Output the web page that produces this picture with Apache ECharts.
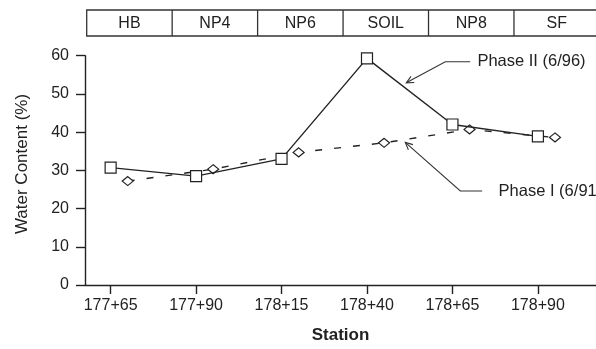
<!DOCTYPE html>
<html>
<head>
<meta charset="utf-8">
<script src="https://cdn.jsdelivr.net/npm/echarts@6/dist/echarts.min.js"></script>
<style>
html,body{margin:0;padding:0;background:#fff;}
#chart{width:596px;height:349px;}
</style>
</head>
<body>
<div id="chart"></div>
<script>
// ---- data ----
const stationsII = [17765, 17790, 17815, 17840, 17865, 17890];
const phaseII = [30.7, 28.5, 33.0, 59.3, 42.0, 38.9];
const stationsI = [17770, 17795, 17820, 17845, 17870, 17895];
const phaseI = [27.2, 30.3, 34.7, 37.2, 40.7, 38.6];
const xTicks = [17765, 17790, 17815, 17840, 17865, 17890];
const xTickLabels = ['177+65', '177+90', '178+15', '178+40', '178+65', '178+90'];
const yTicks = [0, 10, 20, 30, 40, 50, 60];
const zones = ['HB', 'NP4', 'NP6', 'SOIL', 'NP8', 'SF'];
const zoneBounds = [17758, 17783, 17808, 17833, 17858, 17883, 17908];
const annII = { text: 'Phase II (6/96)', tip: [17851.5, 52.9], bend: [17862.9, 58.4], end: [17870.2, 58.4], textAt: 17872.3 };
const annI = { text: 'Phase I (6/91)', tip: [17851.2, 37.3], bend: [17867.3, 24.6], end: [17873.7, 24.6], textAt: 17878.5 };

const INK = '#222';
const FONT = 'Liberation Sans, Arial, sans-serif';

const chart = echarts.init(document.getElementById('chart'), null, { renderer: 'canvas' });

chart.setOption({
  backgroundColor: '#fff',
  animation: false,
  grid: { left: 85, right: 0, top: 55.7, bottom: 62.5, containLabel: false },
  xAxis: {
    type: 'value',
    min: 17757.5,
    max: 17907,
    name: 'Station',
    nameLocation: 'middle',
    nameGap: 42,
    nameTextStyle: { fontFamily: FONT, fontSize: 17, fontWeight: 'bold', color: INK },
    axisLine: { show: true, lineStyle: { color: INK, width: 1.4 } },
    axisTick: { show: true, length: 9, customValues: xTicks, lineStyle: { color: INK, width: 1.4 } },
    axisLabel: {
      customValues: xTicks,
      margin: 13,
      fontFamily: FONT, fontSize: 16, color: INK,
      formatter: v => { const i = xTicks.indexOf(v); return i >= 0 ? xTickLabels[i] : ''; }
    },
    splitLine: { show: false }
  },
  yAxis: {
    type: 'value',
    min: yTicks[0],
    max: yTicks[yTicks.length - 1],
    interval: 10,
    axisLine: { show: true, lineStyle: { color: INK, width: 1.4 } },
    axisTick: { show: true, length: 9, lineStyle: { color: INK, width: 1.4 } },
    axisLabel: { margin: 16, fontFamily: FONT, fontSize: 16, color: INK },
    splitLine: { show: false }
  },
  series: [
    {
      name: 'Phase II (6/96)',
      type: 'line',
      data: stationsII.map((s, i) => [s, phaseII[i]]),
      symbol: 'rect',
      symbolSize: 11,
      lineStyle: { color: INK, width: 1.4 },
      itemStyle: { color: '#fff', borderColor: INK, borderWidth: 1.2 },
      z: 3
    },
    {
      name: 'Phase I (6/91)',
      type: 'line',
      data: stationsI.map((s, i) => [s, phaseI[i]]),
      symbol: 'diamond',
      symbolSize: [11, 9],
      lineStyle: { color: INK, width: 1.4, type: [7, 12] },
      itemStyle: { color: '#fff', borderColor: INK, borderWidth: 1.2 },
      z: 2
    }
  ]
});

// ---- graphics built from the axis scales ----
const px = v => chart.convertToPixel({ xAxisIndex: 0 }, v);
const py = v => chart.convertToPixel({ yAxisIndex: 0 }, v);
const g = [];

// zone boxes at top
const bx0 = px(zoneBounds[0]), bx1 = px(zoneBounds[zoneBounds.length - 1]);
const bTop = 10, bH = 26;
g.push({ type: 'rect', shape: { x: bx0, y: bTop, width: bx1 - bx0, height: bH },
  style: { fill: 'none', stroke: '#333', lineWidth: 1.3 } });
for (let i = 1; i < zoneBounds.length - 1; i++) {
  const x = px(zoneBounds[i]);
  g.push({ type: 'line', shape: { x1: x, y1: bTop, x2: x, y2: bTop + bH },
    style: { stroke: '#333', lineWidth: 1.3 } });
}
zones.forEach((z, i) => {
  const cx = (px(zoneBounds[i]) + px(zoneBounds[i + 1])) / 2;
  g.push({ type: 'text', x: cx, y: bTop + bH / 2 + 1,
    style: { text: z, fill: INK, font: '16px ' + FONT, align: 'center', verticalAlign: 'middle' } });
});

// annotations
function annotate(a) {
  const tip = [px(a.tip[0]), py(a.tip[1])];
  const bend = [px(a.bend[0]), py(a.bend[1])];
  const end = [px(a.end[0]), py(a.end[1])];
  g.push({ type: 'polyline', shape: { points: [end, bend, tip] },
    style: { stroke: '#333', lineWidth: 1.1, fill: 'none' } });
  const ang = Math.atan2(bend[1] - tip[1], bend[0] - tip[0]);
  const L = 8, spread = 0.45;
  const p1 = [tip[0] + L * Math.cos(ang + spread), tip[1] + L * Math.sin(ang + spread)];
  const p2 = [tip[0] + L * Math.cos(ang - spread), tip[1] + L * Math.sin(ang - spread)];
  g.push({ type: 'polyline', shape: { points: [p1, tip, p2] },
    style: { stroke: '#333', lineWidth: 1.1, fill: 'none' } });
  g.push({ type: 'text', x: px(a.textAt), y: end[1],
    style: { text: a.text, fill: INK, font: '16.5px ' + FONT, align: 'left', verticalAlign: 'middle' } });
}
annotate(annII);
annotate(annI);

// y-axis name
g.push({ type: 'text', x: 22, y: 164, rotation: Math.PI / 2,
  style: { text: 'Water Content (%)', fill: INK, font: '17px ' + FONT, align: 'center', verticalAlign: 'middle' } });

chart.setOption({ graphic: g });
</script>
</body>
</html>
